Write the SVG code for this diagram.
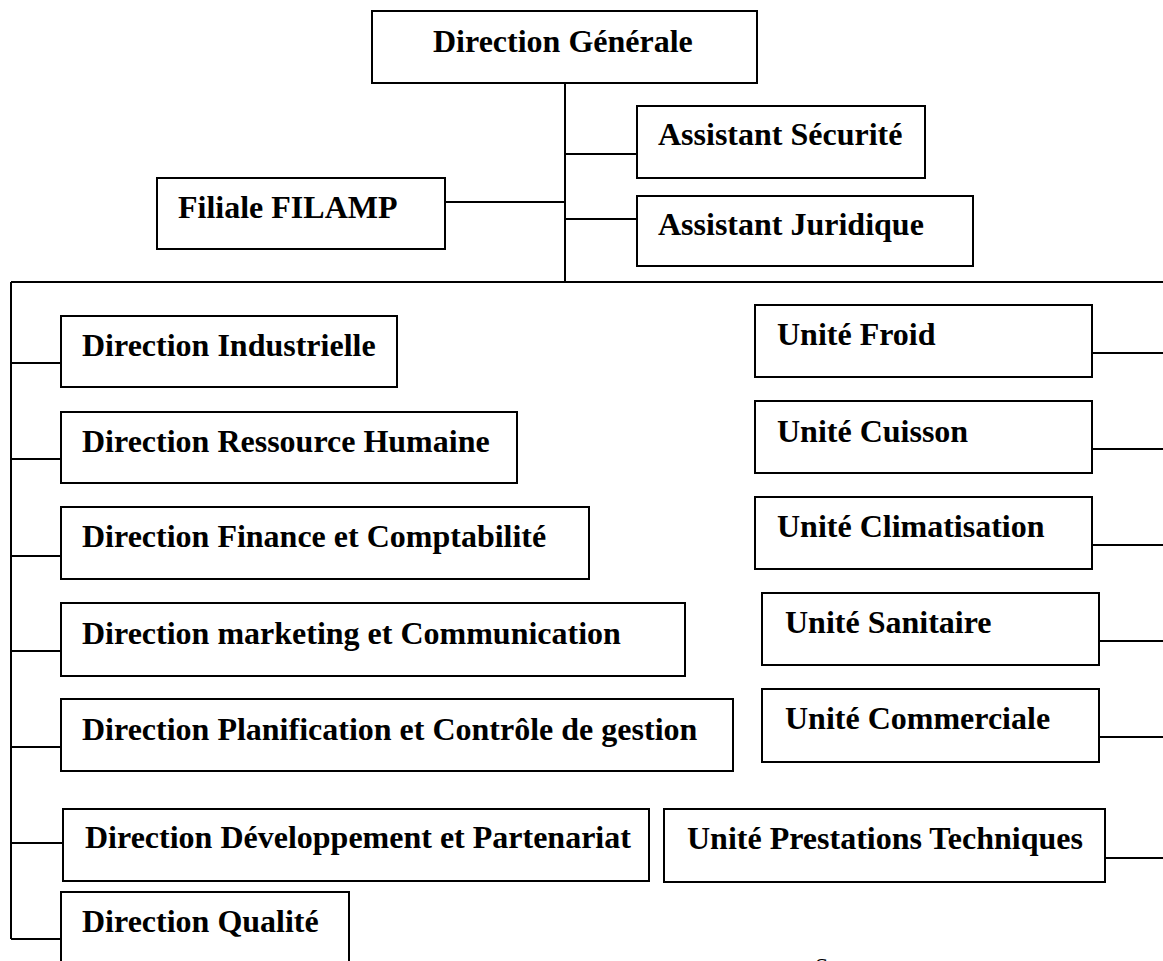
<svg xmlns="http://www.w3.org/2000/svg" width="1163" height="961" viewBox="0 0 1163 961">
  <style>
    .box { fill: #ffffff; stroke: #000000; stroke-width: 2; }
    .lbl { font-family: "Liberation Serif", "Times New Roman", serif; font-weight: bold; font-size: 32px; fill: #000000; }
    .wire { fill: none; stroke: #000000; stroke-width: 2; }
    .note { font-family: "Liberation Serif", "Times New Roman", serif; font-size: 24px; fill: #000000; }
  </style>
  <rect width="1163" height="961" fill="#ffffff"/>

  <!-- connectors -->
  <g id="connectors" class="wire">
    <path d="M565 83 V282"/>
    <path d="M565 154 H637"/>
    <path d="M565 219 H637"/>
    <path d="M445 202 H565"/>
    <path d="M11 282 H1163"/>
    <path d="M11 282 V939"/>
    <path d="M11 363 H61"/>
    <path d="M11 459 H61"/>
    <path d="M11 556 H61"/>
    <path d="M11 651 H61"/>
    <path d="M11 747 H61"/>
    <path d="M11 843 H63"/>
    <path d="M11 939 H61"/>
    <path d="M1091 353 H1163"/>
    <path d="M1091 449 H1163"/>
    <path d="M1091 545 H1163"/>
    <path d="M1098 641 H1163"/>
    <path d="M1098 737 H1163"/>
    <path d="M1105 858 H1163"/>
  </g>

  <g id="direction-generale">
    <rect class="box" x="372" y="11" width="385" height="72"/>
    <text class="lbl" x="433" y="52">Direction Générale</text>
  </g>
  <g id="assistant-securite">
    <rect class="box" x="637" y="106" width="288" height="72"/>
    <text class="lbl" x="658" y="145">Assistant Sécurité</text>
  </g>
  <g id="assistant-juridique">
    <rect class="box" x="637" y="196" width="336" height="70"/>
    <text class="lbl" x="658" y="235">Assistant Juridique</text>
  </g>
  <g id="filiale-filamp">
    <rect class="box" x="157" y="178" width="288" height="71"/>
    <text class="lbl" x="178" y="218">Filiale FILAMP</text>
  </g>

  <g id="direction-industrielle">
    <rect class="box" x="61" y="316" width="336" height="71"/>
    <text class="lbl" x="82" y="356">Direction Industrielle</text>
  </g>
  <g id="direction-rh">
    <rect class="box" x="61" y="412" width="456" height="71"/>
    <text class="lbl" x="82" y="452">Direction Ressource Humaine</text>
  </g>
  <g id="direction-finance">
    <rect class="box" x="61" y="507" width="528" height="72"/>
    <text class="lbl" x="82" y="547">Direction Finance et Comptabilité</text>
  </g>
  <g id="direction-marketing">
    <rect class="box" x="61" y="603" width="624" height="73"/>
    <text class="lbl" x="82" y="644">Direction marketing et Communication</text>
  </g>
  <g id="direction-planification">
    <rect class="box" x="61" y="699" width="672" height="72"/>
    <text class="lbl" x="82" y="740">Direction Planification et Contrôle de gestion</text>
  </g>
  <g id="direction-developpement">
    <rect class="box" x="63" y="809" width="586" height="72"/>
    <text class="lbl" x="85" y="848">Direction Développement et Partenariat</text>
  </g>
  <g id="direction-qualite">
    <rect class="box" x="61" y="892" width="288" height="80"/>
    <text class="lbl" x="82" y="932">Direction Qualité</text>
  </g>

  <g id="unite-froid">
    <rect class="box" x="755" y="305" width="337" height="72"/>
    <text class="lbl" x="777" y="345">Unité Froid</text>
  </g>
  <g id="unite-cuisson">
    <rect class="box" x="755" y="401" width="337" height="72"/>
    <text class="lbl" x="777" y="442">Unité Cuisson</text>
  </g>
  <g id="unite-climatisation">
    <rect class="box" x="755" y="497" width="337" height="72"/>
    <text class="lbl" x="777" y="537">Unité Climatisation</text>
  </g>
  <g id="unite-sanitaire">
    <rect class="box" x="762" y="593" width="337" height="72"/>
    <text class="lbl" x="785" y="633">Unité Sanitaire</text>
  </g>
  <g id="unite-commerciale">
    <rect class="box" x="762" y="689" width="337" height="73"/>
    <text class="lbl" x="785" y="729">Unité Commerciale</text>
  </g>
  <g id="unite-prestations">
    <rect class="box" x="664" y="809" width="441" height="73"/>
    <text class="lbl" x="687" y="849">Unité Prestations Techniques</text>
  </g>

  <!-- start of a line of text that continues below the page edge -->
  <text class="note" x="815" y="974">S</text>
</svg>
